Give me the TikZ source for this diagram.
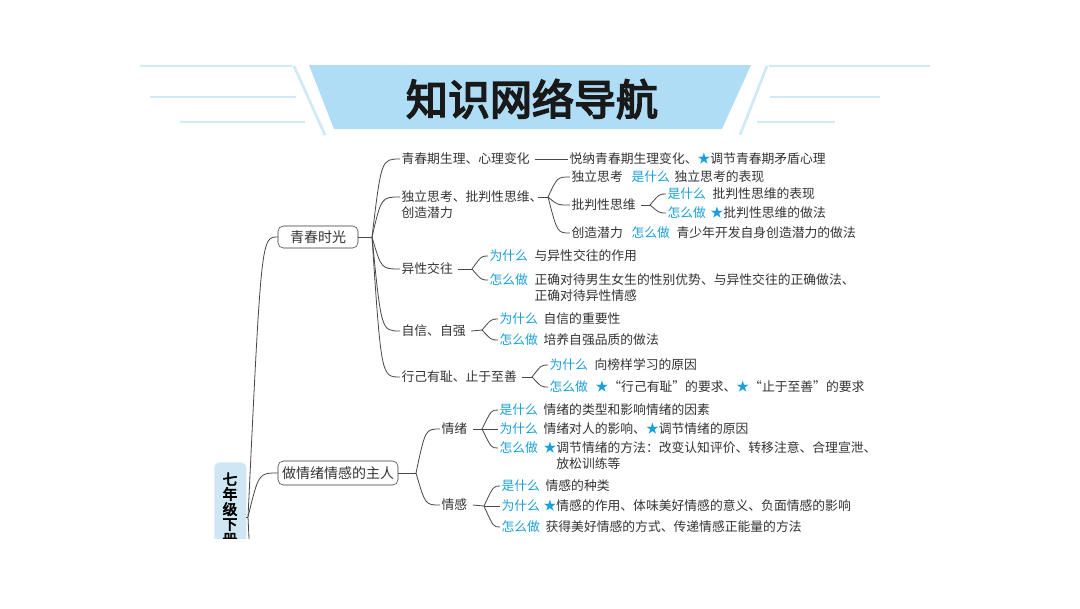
\documentclass[tikz,border=0pt]{standalone}
\usepackage{fontspec}
\setmainfont{Noto Sans CJK SC}
\newfontfamily\cjkb[FakeBold=4]{Noto Sans CJK SC}
\usetikzlibrary{calc}
\definecolor{kblue}{HTML}{1A9FD8}
\definecolor{ktxt}{HTML}{333333}
\definecolor{banner}{HTML}{AEDDF5}
\definecolor{bline}{HTML}{CFE9F7}
\definecolor{rootfill}{HTML}{CFE6F4}
\tikzset{
 t/.style={anchor=west,inner sep=1pt,text=ktxt,font=\fontsize{9.6pt}{12pt}\selectfont},
 q/.style={t,text=kblue},
 box/.style={draw=ktxt,rounded corners=4pt,inner sep=0pt,text=ktxt,font=\fontsize{10.5pt}{12pt}\selectfont},
 ln/.style={draw=ktxt!90,line width=0.6pt},
}
\newcommand{\br}[2]{\draw[ln] let \p1=(#1),\p2=(#2) in (\p1) .. controls (\x1+7pt,\y2) .. (\p2);}
\begin{document}
\begin{tikzpicture}[x=0.75pt,y=-0.75pt]
\useasboundingbox[fill=white] (0,0) rectangle (1080,608);
% banner
\fill[banner] (309,65) -- (751,65) -- (722,129) -- (334,129) -- cycle;
\draw[bline,line width=2pt] (294,66)--(325,135) (767,66)--(740,135);
\draw[bline,line width=2pt] (140,66)--(292,66) (150,97)--(296,97) (180,122)--(305,122);
\draw[bline,line width=2pt] (769,66)--(930,66) (770,97)--(880,97) (757,122)--(835,122);
\node[font=\cjkb\fontsize{31.5pt}{32pt}\selectfont,text=black!90] (title) at (532,99) {知识网络导航};
% root
\begin{scope}
\clip (0,0) rectangle (1080,538);
\node[fill=rootfill,rounded corners=4pt,minimum width=24pt,minimum height=67.5pt,anchor=north west,inner sep=0pt] (root) at (214,462) {};
\node[font=\cjkb\fontsize{11pt}{11.2pt}\selectfont,text=black,align=center,anchor=north] (rootlbl) at (230,468) {七\\年\\级\\下\\册};
\coordinate (rh) at (248,517);
\draw[ln] (246,517)--(rh);
\draw[ln] (rh) -- (250,560);
\end{scope}
% level 1
\node[box,minimum width=60pt,minimum height=16.5pt] (qc) at (318,237) {青春时光};
\node[box,minimum width=90pt,minimum height=18pt] (qx) at (338,473) {做情绪情感的主人};
\draw[ln] let \p1=(rh),\p2=(qc.west) in (\p1) .. controls (\x1+10pt,\y2) .. (\p2);
\draw[ln] let \p1=(rh),\p2=(qx.west) in (\p1) .. controls (\x1+8pt,\y2) .. (\p2);
% 青春时光 branch
\coordinate (h1) at (372,237);
\draw[ln] (qc.east)--(h1);
\node[t] (a1) at (400,159) {青春期生理、心理变化};
\node[t,align=left] (a2) at (400,205) {独立思考、批判性思维、\\创造潜力};
\coordinate (a2p) at (400,197);
\node[t] (a3) at (400,269) {异性交往};
\node[t] (a4) at (400,331) {自信、自强};
\node[t] (a5) at (400,377) {行己有耻、止于至善};
\br{h1}{a1.west}\br{h1}{a2p}\br{h1}{a3.west}\br{h1}{a4.west}\br{h1}{a5.west}
% a1
\node[t] (a1x) at (568,159) {悦纳青春期生理变化、\textcolor{kblue}{★}调节青春期矛盾心理};
\draw[ln] (a1.east)++(4,0) -- (a1x.west);
% a2
\coordinate (h2) at (548,197);
\draw[ln] (538,197) -- (h2);
\node[t] (b1) at (570,177) {独立思考};
\node[q] (b1q) at (630,177) {是什么};
\node[t] (b1t) at (673,177) {独立思考的表现};
\node[t] (b2) at (570,205) {批判性思维};
\node[t] (b3) at (570,233) {创造潜力};
\node[q] (b3q) at (630,233) {怎么做};
\node[t] (b3t) at (675,233) {青少年开发自身创造潜力的做法};
\br{h2}{b1.west}\br{h2}{b2.west}\br{h2}{b3.west}
\coordinate (h3) at (650,205);
\draw[ln] (b2.east)++(4,0) -- (h3);
\node[q] (c1) at (666,194) {是什么};
\node[t] at (711,194) {批判性思维的表现};
\node[q] (c2) at (666,213) {怎么做};
\node[t] at (709,213) {\textcolor{kblue}{★}批判性思维的做法};
\br{h3}{c1.west}\br{h3}{c2.west}
% a3
\coordinate (h4) at (472,269);
\draw[ln] (a3.east)++(4,0) -- (h4);
\node[q] (d1) at (488,256) {为什么};
\node[t] at (533,256) {与异性交往的作用};
\node[q] (d2) at (488,280) {怎么做};
\node[t,align=left,anchor=north west] at (533,272) {正确对待男生女生的性别优势、与异性交往的正确做法、\\正确对待异性情感};
\br{h4}{d1.west}\br{h4}{d2.west}
% a4
\coordinate (h5) at (482,330);
\draw[ln] (a4.east)++(4,0) -- (h5);
\node[q] (e1) at (498,319) {为什么};
\node[t] at (542,319) {自信的重要性};
\node[q] (e2) at (498,340) {怎么做};
\node[t] at (542,340) {培养自强品质的做法};
\br{h5}{e1.west}\br{h5}{e2.west}
% a5
\coordinate (h6) at (532,377);
\draw[ln] (a5.east)++(4,0) -- (h6);
\node[q] (f1) at (548,365) {为什么};
\node[t] at (593,365) {向榜样学习的原因};
\node[q] (f2) at (548,387) {怎么做};
\node[t] at (594,387) {\textcolor{kblue}{★}“行己有耻”的要求、\textcolor{kblue}{★}“止于至善”的要求};
\br{h6}{f1.west}\br{h6}{f2.west}
% 做情绪情感的主人 branch
\coordinate (h7) at (416,473);
\draw[ln] (qx.east)--(h7);
\node[t] (g1) at (440,429) {情绪};
\node[t] (g2) at (440,505) {情感};
\br{h7}{g1.west}\br{h7}{g2.west}
\coordinate (h8) at (482,429);
\draw[ln] (g1.east)++(4,0) -- (h8);
\node[q] (i1) at (498,410) {是什么};
\node[t] at (542,410) {情绪的类型和影响情绪的因素};
\node[q] (i2) at (498,429) {为什么};
\node[t] at (542,429) {情绪对人的影响、\textcolor{kblue}{★}调节情绪的原因};
\node[q] (i3) at (498,448) {怎么做};
\node[t,align=left,anchor=north west] at (542,440) {\textcolor{kblue}{★}调节情绪的方法：改变认知评价、转移注意、合理宣泄、\\\phantom{★}放松训练等};
\br{h8}{i1.west}\br{h8}{i2.west}\br{h8}{i3.west}
\coordinate (h9) at (484,506);
\draw[ln] (g2.east)++(4,0) -- (h9);
\node[q] (j1) at (500,486) {是什么};
\node[t] at (544,486) {情感的种类};
\node[q] (j2) at (500,506) {为什么};
\node[t] at (542,506) {\textcolor{kblue}{★}情感的作用、体味美好情感的意义、负面情感的影响};
\node[q] (j3) at (500,527) {怎么做};
\node[t] at (544,527) {获得美好情感的方式、传递情感正能量的方法};
\br{h9}{j1.west}\br{h9}{j2.west}\br{h9}{j3.west}
\end{tikzpicture}
\end{document}
